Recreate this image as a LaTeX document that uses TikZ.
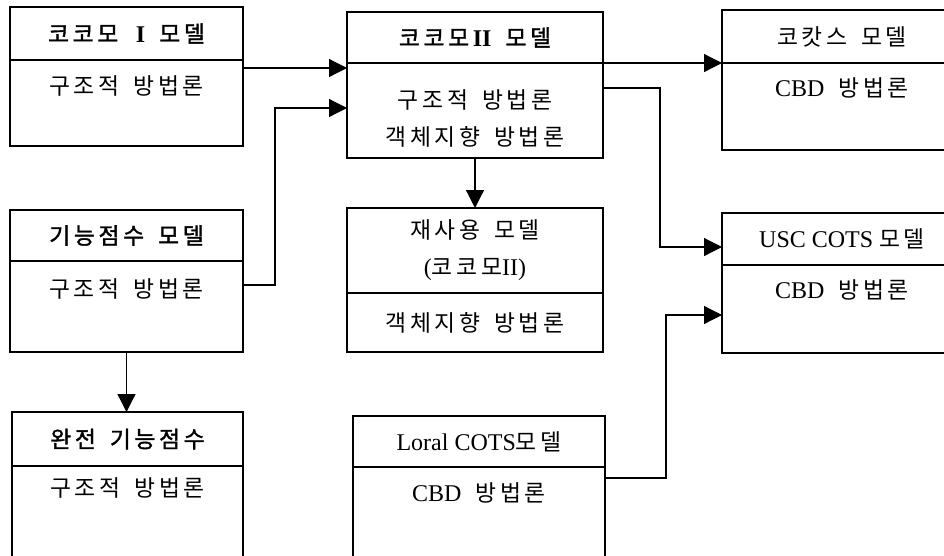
\documentclass[tikz,border=0pt]{standalone}
\usepackage{fontspec}
\setmainfont{Liberation Serif}
\newfontfamily\krfont{Noto Sans CJK KR}[Scale=0.95,LetterSpace=16,WordSpace=1.6]
\newfontfamily\krbfont{Noto Sans CJK KR}[Scale=0.95,LetterSpace=16,WordSpace=1.6,FakeBold=1.5]
\usetikzlibrary{arrows.meta}

\begin{document}
\begin{tikzpicture}[x=1pt,y=-1pt,
    font=\fontsize{24}{37}\selectfont,
    box/.style={draw,line width=1.6pt,inner sep=0pt,outer sep=0pt,anchor=north west,align=center},
    lbl/.style={inner sep=0pt,align=center},
    arr/.style={line width=1.2pt,-{Triangle[length=18pt,width=18pt]}}]
\useasboundingbox (0,0) rectangle (944,555);
\clip (0,0) rectangle (944,555);
% left column
\node[box,minimum width=233pt,minimum height=53pt] (cocomoOne) at (10,7) {{\krbfont 코코모 }\textbf{I}{\krbfont{} 모델}}; % cocomo I
\node[box,minimum width=233pt,minimum height=86pt] (cocomoOneBody) at (cocomoOne.south west) {};
\node[lbl] (cocomoOneText) at ([yshift=-26pt]cocomoOneBody.north) {\krfont 구조적 방법론};
\node[box,minimum width=233pt,minimum height=51pt] (fp) at (10,210) {\krbfont 기능점수 모델}; % function points
\node[box,minimum width=233pt,minimum height=91pt] (fpBody) at (fp.south west) {};
\node[lbl] (fpText) at ([yshift=-28pt]fpBody.north) {\krfont 구조적 방법론};
\node[box,minimum width=231pt,minimum height=54pt] (full) at (12,412) {\krbfont 완전 기능점수}; % full function points
\node[box,minimum width=231pt,minimum height=110pt] (fullBody) at (full.south west) {};
\node[lbl] (fullText) at ([yshift=-22pt]fullBody.north) {\krfont 구조적 방법론};
% middle column
\node[box,minimum width=256pt,minimum height=51pt] (cocomoTwo) at (347,12) {{\krbfont 코코모}\textbf{II}{\krbfont{} 모델}}; % cocomo II
\node[box,minimum width=256pt,minimum height=95pt] (cocomoTwoBody) at (cocomoTwo.south west) {};
\node[lbl] (cocomoTwoText) at ([yshift=-55pt]cocomoTwoBody.north) {{\krfont 구조적 방법론}\\{\krfont 객체지향 방법론}};
\node[box,minimum width=256pt,minimum height=85pt] (reuse) at (347,208) {{\krfont 재사용 모델}\\({\krfont 코코모}II)}; % reuse
\node[box,minimum width=256pt,minimum height=59pt] (reuseBody) at (reuse.south west) {\krfont 객체지향 방법론};
\node[box,minimum width=252pt,minimum height=51pt] (loral) at (353,416) {Loral COTS{\krfont 모델}}; % loral
\node[box,minimum width=252pt,minimum height=110pt] (loralBody) at (loral.south west) {};
\node[lbl] (loralText) at ([yshift=-26pt]loralBody.north) {CBD{\krfont{} 방법론}};
% right column
\node[box,minimum width=240pt,minimum height=53pt] (cocots) at (722,10) {\krfont 코캇스 모델}; % cocots
\node[box,minimum width=240pt,minimum height=87pt] (cocotsBody) at (cocots.south west) {};
\node[lbl] (cocotsText) at ([yshift=-25pt]cocotsBody.north) {CBD{\krfont{} 방법론}};
\node[box,minimum width=240pt,minimum height=52pt] (usc) at (722,213) {USC COTS {\krfont 모델}}; % usc cots
\node[box,minimum width=240pt,minimum height=88pt] (uscBody) at (usc.south west) {};
\node[lbl] (uscText) at ([yshift=-25pt]uscBody.north) {CBD{\krfont{} 방법론}};
% connectors
\draw[arr] ([yshift=-8pt]cocomoOneBody.north east) -- ([yshift=-5pt]cocomoTwoBody.north west);
\draw[arr] ([yshift=-24pt]fpBody.north east) -- ++(32,0) |- ([yshift=-45pt]cocomoTwoBody.north west);
\draw[arr] (cocomoTwoBody.north east) -- (cocotsBody.north west);
\draw[arr] ([yshift=-25pt]cocomoTwoBody.north east) -- ++(57,0) |- ([yshift=-34pt]usc.north west);
\draw[arr] (cocomoTwoBody.south) -- (reuse.north);
\draw[arr] ([yshift=-11pt]loralBody.north east) -- ++(61,0) |- ([yshift=-50pt]uscBody.north west);
\draw[arr] (fpBody.south) -- (fpBody.south |- full.north);
\end{tikzpicture}
\end{document}
